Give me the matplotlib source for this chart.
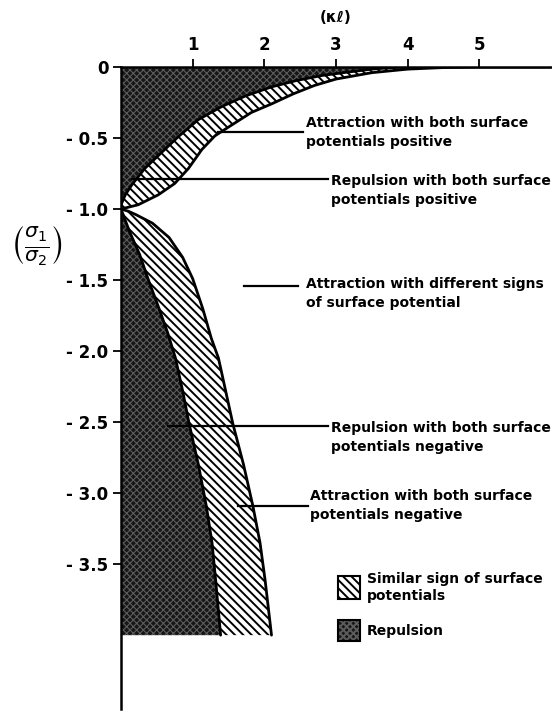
import matplotlib
matplotlib.use("Agg")
import matplotlib.pyplot as plt
from matplotlib.patches import Rectangle

# ---- data ----
upper_inner_x = [0.0, 0.06, 0.15, 0.33, 0.57, 0.80, 1.08, 1.40, 1.73, 2.10, 2.45, 2.80, 3.10, 3.50, 3.90]
upper_inner_y = [-0.97, -0.90, -0.83, -0.715, -0.60, -0.49, -0.37, -0.28, -0.205, -0.14, -0.095, -0.06, -0.04, -0.015, 0.0]

upper_outer_x = [0.0, 0.24, 0.52, 0.75, 0.94, 1.13, 1.31, 1.54, 1.82, 2.10, 2.40, 2.70, 3.00, 3.50, 4.00, 4.50, 5.00, 6.00]
upper_outer_y = [-1.0, -0.97, -0.90, -0.82, -0.715, -0.58, -0.485, -0.41, -0.32, -0.26, -0.19, -0.13, -0.085, -0.04, -0.015, -0.004, 0.0, 0.0]

lower_inner_x = [0.0, 0.06, 0.12, 0.26, 0.39, 0.53, 0.65, 0.76, 0.86, 0.95, 1.08, 1.19, 1.27, 1.32, 1.39]
lower_inner_y = [-1.0, -1.08, -1.16, -1.32, -1.51, -1.70, -1.87, -2.05, -2.28, -2.51, -2.80, -3.09, -3.35, -3.61, -4.0]

lower_outer_x = [0.0, 0.10, 0.21, 0.44, 0.67, 0.86, 1.00, 1.14, 1.26, 1.36, 1.46, 1.56, 1.71, 1.84, 1.94, 2.01, 2.10]
lower_outer_y = [-1.0, -1.015, -1.04, -1.10, -1.20, -1.34, -1.49, -1.70, -1.91, -2.05, -2.28, -2.51, -2.80, -3.09, -3.35, -3.61, -4.0]

x_ticks = [1, 2, 3, 4, 5]
x_tick_labels = ["1", "2", "3", "4", "5"]
y_ticks = [0, -0.5, -1.0, -1.5, -2.0, -2.5, -3.0, -3.5]
y_tick_labels = ["0", "- 0.5", "- 1.0", "- 1.5", "- 2.0", "- 2.5", "- 3.0", "- 3.5"]
y_bottom_fill = -4.0

labels = [
    ("Attraction with both surface\npotentials positive", (1.36, -0.455), (2.54, -0.455), (2.58, -0.46)),
    ("Repulsion with both surface\npotentials positive", (0.15, -0.79), (2.89, -0.79), (2.93, -0.87)),
    ("Attraction with different signs\nof surface potential", (1.72, -1.54), (2.47, -1.54), (2.58, -1.595)),
    ("Repulsion with both surface\npotentials negative", (0.65, -2.53), (2.89, -2.53), (2.93, -2.61)),
    ("Attraction with both surface\npotentials negative", (1.63, -3.09), (2.61, -3.09), (2.64, -3.09)),
]
legend_labels = ["Similar sign of surface\npotentials", "Repulsion"]

# ---- style ----
plt.rcParams["font.family"] = ["DejaVu Sans"]
plt.rcParams["hatch.linewidth"] = 1.4

DARK_FACE = "#161616"
DARK_HATCH = "#5c5c5c"
HATCH = "\\\\\\\\"
DARK_PATTERN = "xxxxx"

fig = plt.figure(figsize=(5.52, 7.13), dpi=100)
ax = fig.add_axes([121 / 552, 1 - 709 / 713, 430 / 552, 642 / 713])
ax.set_xlim(0, 6.0)
ax.set_ylim(-4.52, 0)


def dark_fill(xs, ys):
    p = ax.fill(xs, ys, facecolor=DARK_FACE, edgecolor=DARK_HATCH, hatch=DARK_PATTERN,
                linewidth=0, zorder=1)[0]
    if hasattr(p, "set_hatch_linewidth"):
        p.set_hatch_linewidth(0.8)
    return p


# upper dark (repulsion) region
ux = [0.0, upper_inner_x[-1]] + upper_inner_x[::-1]
uy = [0.0, 0.0] + upper_inner_y[::-1]
dark_fill(ux, uy)

# upper hatched band
bx = [0.0] + upper_inner_x + upper_outer_x[::-1]
by = [-0.97] + upper_inner_y + upper_outer_y[::-1]
ax.fill(bx, by, facecolor="white", edgecolor="black", hatch=HATCH, linewidth=0, zorder=1)

# lower dark region
lx = lower_inner_x + [0.0]
ly = lower_inner_y + [y_bottom_fill]
dark_fill(lx, ly)

# lower hatched band
hx = lower_inner_x + lower_outer_x[::-1]
hy = lower_inner_y + lower_outer_y[::-1]
ax.fill(hx, hy, facecolor="white", edgecolor="black", hatch=HATCH, linewidth=0, zorder=1)

# boundary curves
for xs, ys in [(upper_inner_x, upper_inner_y), (upper_outer_x, upper_outer_y),
               (lower_inner_x, lower_inner_y), (lower_outer_x, lower_outer_y)]:
    ax.plot(xs, ys, color="black", lw=2.0, zorder=3, solid_capstyle="round",
            solid_joinstyle="round")

# leaders and texts
for text, p0, p1, tpos in labels:
    ax.plot([p0[0], p1[0]], [p0[1], p1[1]], color="black", lw=1.6, zorder=4)
    ax.text(tpos[0], tpos[1], text, ha="left", va="center", fontsize=10,
            fontweight="bold", linespacing=1.45, zorder=5)

# axes styling
for s in ["right", "bottom"]:
    ax.spines[s].set_visible(False)
ax.spines["left"].set_linewidth(1.8)
ax.spines["top"].set_linewidth(1.8)
ax.xaxis.set_ticks_position("top")
ax.set_xticks(x_ticks)
ax.set_xticklabels(x_tick_labels, fontsize=12)
ax.set_yticks(y_ticks)
ax.set_yticklabels(y_tick_labels, fontsize=12)
for lab in ax.get_xticklabels() + ax.get_yticklabels():
    lab.set_fontweight("bold")
ax.tick_params(axis="x", direction="out", length=6, width=1.3, pad=3)
ax.tick_params(axis="y", direction="out", length=6, width=1.3, pad=3)

fig.text(336 / 552, 1 - 18 / 713, "(κℓ)", ha="center", va="center", fontsize=11,
         fontweight="bold")
fig.text(36 / 552, 1 - 245 / 713, r"$\left(\frac{\sigma_1}{\sigma_2}\right)$",
         ha="center", va="center", fontsize=21)

# legend (manual)
lw_box = 22 / 430
lh_box = 23 / 642
x_box = (338 - 121) / 430
y1 = 1 - (599 - 67) / 642
y2 = 1 - (641 - 67) / 642
ax.add_patch(Rectangle((x_box, y1), lw_box, lh_box, transform=ax.transAxes,
                       facecolor="white", edgecolor="black", hatch=HATCH, lw=1.5, zorder=5))
lp = Rectangle((x_box, y2), lw_box, lh_box * 0.9, transform=ax.transAxes,
               facecolor=DARK_FACE, edgecolor=DARK_HATCH, hatch=DARK_PATTERN, lw=0, zorder=5)
ax.add_patch(lp)
ax.add_patch(Rectangle((x_box, y2), lw_box, lh_box * 0.9, transform=ax.transAxes,
                       facecolor="none", edgecolor="black", lw=1.5, zorder=6))
ax.text(x_box + lw_box + 7 / 430, y1 + lh_box / 2, legend_labels[0], transform=ax.transAxes,
        ha="left", va="center", fontsize=10, fontweight="bold", linespacing=1.3)
ax.text(x_box + lw_box + 7 / 430, y2 + lh_box * 0.45, legend_labels[1], transform=ax.transAxes,
        ha="left", va="center", fontsize=10, fontweight="bold")

fig.savefig("out.png", dpi=100)
